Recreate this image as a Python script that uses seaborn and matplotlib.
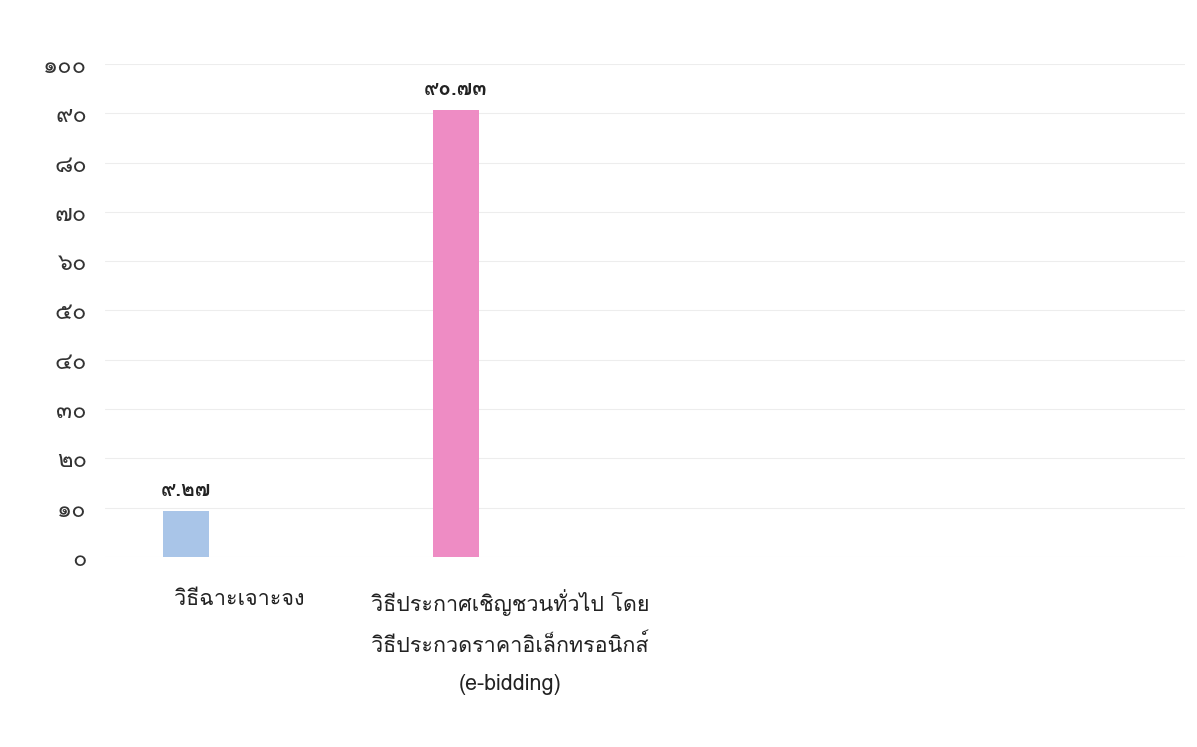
import matplotlib
matplotlib.use("Agg")
import matplotlib.pyplot as plt
import seaborn as sns
import pandas as pd

# ---- data ----
categories = [
    "วิธีฉาะเจาะจง",
    "วิธีประกาศเชิญชวนทั่วไป โดย\nวิธีประกวดราคาอิเล็กทรอนิกส์\n(e-bidding)",
]
empty_categories = [" ", "  "]
values = [9.27, 90.73]
value_labels = ["๙.๒๗", "๙๐.๗๓"]
bar_colors = ["#a9c5e8", "#ee8cc4"]
y_ticks = [0, 10, 20, 30, 40, 50, 60, 70, 80, 90, 100]
y_tick_labels = ["๐", "๑๐", "๒๐", "๓๐", "๔๐", "๕๐", "๖๐", "๗๐", "๘๐", "๙๐", "๑๐๐"]

sns.set_theme(style="white")
plt.rcParams["font.family"] = ["Loma", "Noto Sans Thai Looped", "DejaVu Sans"]

df = pd.DataFrame({"cat": categories, "val": values, "slot": ["a"] * len(categories)})
order = categories + empty_categories

fig = plt.figure(figsize=(11.97, 7.47), dpi=100)
ax = fig.add_axes([0.0877, 0.2544, 0.9023, 0.6599])

sns.barplot(data=df, x="cat", y="val", hue="slot", hue_order=["a", "b"],
            order=order, dodge=True, width=0.8, gap=0.575, legend=False,
            palette=bar_colors, ax=ax, saturation=1, linewidth=0)

cont = ax.containers[0]
for bar, c in zip(cont, bar_colors):
    bar.set_facecolor(c)
ax.bar_label(cont, labels=value_labels, padding=8, fontsize=15,
             fontweight="bold", color="#222222")

ax.set_ylim(0, 100)
ax.set_yticks(y_ticks)
ax.set_yticklabels(y_tick_labels, fontsize=17, color="#333333")
ax.set_xticks(range(len(order)))
ax.set_xticklabels(categories + ["", ""], fontsize=15.5, color="#222222",
                   linespacing=2.05, va="top")
ax.tick_params(axis="y", length=0, pad=13)
ax.tick_params(axis="x", length=0, pad=23)
ax.set_xlabel("")
ax.set_ylabel("")
ax.yaxis.grid(True, color="#ededed", linewidth=0.8)
ax.set_axisbelow(True)
for s in ax.spines.values():
    s.set_visible(False)

fig.savefig("out.png", dpi=100, facecolor="white")
